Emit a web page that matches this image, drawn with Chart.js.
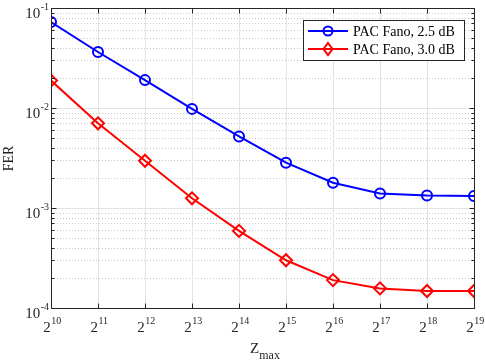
<!DOCTYPE html>
<html>
<head>
<meta charset="utf-8">
<script src="https://cdn.jsdelivr.net/npm/chart.js@4.4.1/dist/chart.umd.min.js"></script>
<style>
  html, body { margin: 0; padding: 0; background: #fff; }
  #wrap { width: 485px; height: 361px; }
</style>
</head>
<body>
<div id="wrap"><canvas id="ferChart"></canvas></div>
<script>
// x axis: Zmax = 2^k
const xExponents = [10, 11, 12, 13, 14, 15, 16, 17, 18, 19];
const yDecades = [-4, -3, -2, -1];

const ferFano25 = [0.0724, 0.0363, 0.0190, 0.0098, 0.0052, 0.00284, 0.00179, 0.00140, 0.00133, 0.00132];
const ferFano30 = [0.0188, 0.00703, 0.00297, 0.00125, 0.00059, 0.000300, 0.000190, 0.000157, 0.000148, 0.000148];

const seriesLabels = ['PAC Fano, 2.5 dB', 'PAC Fano, 3.0 dB'];

const serif = '"Liberation Serif", "DejaVu Serif", serif';
const frameColor = '#262626';

function toPoints(vals) {
    return xExponents.map((k, i) => ({ x: k, y: vals[i] }));
}

// draw "base^exp"; align 'center' or 'right'
function drawPower(ctx, base, exp, x, y, align) {
    ctx.font = '15px ' + serif;
    const bw = ctx.measureText(base).width;
    ctx.font = '10px ' + serif;
    const ew = ctx.measureText(exp).width;
    let left = align === 'center' ? x - (bw + ew) / 2 : x - bw - ew;
    ctx.textAlign = 'left';
    ctx.textBaseline = 'alphabetic';
    ctx.font = '15px ' + serif;
    ctx.fillText(base, left, y);
    ctx.font = '10px ' + serif;
    ctx.fillText(exp, left + bw + 0.5, y - 8);
}

const axesPlugin = {
    id: 'matlabAxes',
    beforeDatasetsDraw(chart) {
        const { ctx, chartArea: a, scales } = chart;
        const xs = scales.x, ys = scales.y;
        ctx.save();
        // minor dotted grid
        ctx.strokeStyle = '#c8c8c8';
        ctx.lineWidth = 1;
        ctx.setLineDash([1, 2]);
        yDecades.forEach(d => {
            if (d === yDecades[yDecades.length - 1]) return;
            for (let m = 2; m <= 9; m++) {
                const py = Math.round(ys.getPixelForValue(m * Math.pow(10, d))) + 0.5;
                ctx.beginPath();
                ctx.moveTo(a.left, py);
                ctx.lineTo(a.right, py);
                ctx.stroke();
            }
        });
        // major grid
        ctx.setLineDash([]);
        ctx.strokeStyle = '#e3e3e3';
        yDecades.forEach(d => {
            const py = Math.round(ys.getPixelForValue(Math.pow(10, d))) + 0.5;
            ctx.beginPath();
            ctx.moveTo(a.left, py);
            ctx.lineTo(a.right, py);
            ctx.stroke();
        });
        xExponents.forEach(k => {
            const px = Math.round(xs.getPixelForValue(k)) + 0.5;
            ctx.beginPath();
            ctx.moveTo(px, a.top);
            ctx.lineTo(px, a.bottom);
            ctx.stroke();
        });
        ctx.restore();
    },
    afterDatasetsDraw(chart) {
        const { ctx, chartArea: a, scales } = chart;
        const xs = scales.x, ys = scales.y;
        ctx.save();
        ctx.strokeStyle = frameColor;
        ctx.lineWidth = 1;
        const L = Math.round(a.left) + 0.5, R = Math.round(a.right) + 0.5;
        const T = Math.round(a.top) + 0.5, B = Math.round(a.bottom) + 0.5;
        ctx.strokeRect(L, T, R - L, B - T);
        // ticks
        ctx.beginPath();
        xExponents.forEach(k => {
            const px = Math.round(xs.getPixelForValue(k)) + 0.5;
            ctx.moveTo(px, B); ctx.lineTo(px, B - 5);
            ctx.moveTo(px, T); ctx.lineTo(px, T + 5);
        });
        yDecades.forEach(d => {
            const py = Math.round(ys.getPixelForValue(Math.pow(10, d))) + 0.5;
            ctx.moveTo(L, py); ctx.lineTo(L + 5, py);
            ctx.moveTo(R, py); ctx.lineTo(R - 5, py);
            if (d === yDecades[yDecades.length - 1]) return;
            for (let m = 2; m <= 9; m++) {
                const pm = Math.round(ys.getPixelForValue(m * Math.pow(10, d))) + 0.5;
                ctx.moveTo(L, pm); ctx.lineTo(L + 3, pm);
                ctx.moveTo(R, pm); ctx.lineTo(R - 3, pm);
            }
        });
        ctx.stroke();
        // tick labels
        ctx.fillStyle = frameColor;
        xExponents.forEach(k => {
            drawPower(ctx, '2', String(k), xs.getPixelForValue(k) + 1, B + 23, 'center');
        });
        yDecades.forEach(d => {
            drawPower(ctx, '10', String(d), L - 3, ys.getPixelForValue(Math.pow(10, d)) + 10, 'right');
        });
        // axis titles
        ctx.textAlign = 'left';
        ctx.font = '15px ' + serif;
        const zw = ctx.measureText('Z').width;
        ctx.font = '12px ' + serif;
        const mw = ctx.measureText('max').width;
        const cx = (L + R) / 2 + 2;
        ctx.font = '15px ' + serif;
        ctx.fillText('Z', cx - (zw + mw) / 2, 353);
        ctx.font = '12px ' + serif;
        ctx.fillText('max', cx - (zw + mw) / 2 + zw, 359);
        ctx.translate(13, (T + B) / 2);
        ctx.rotate(-Math.PI / 2);
        ctx.textAlign = 'center';
        ctx.font = '14px ' + serif;
        ctx.fillText('FER', 0, 0);
        ctx.restore();
    }
};

new Chart(document.getElementById('ferChart'), {
    type: 'line',
    data: {
        datasets: [
            {
                label: seriesLabels[0],
                data: toPoints(ferFano25),
                borderColor: '#0000ff',
                backgroundColor: 'rgba(0,0,0,0)',
                borderWidth: 2,
                pointStyle: 'circle',
                pointRadius: 5,
                pointBorderWidth: 2,
                pointBackgroundColor: 'rgba(0,0,0,0)',
                pointBorderColor: '#0000ff'
            },
            {
                label: seriesLabels[1],
                data: toPoints(ferFano30),
                borderColor: '#ff0000',
                backgroundColor: 'rgba(0,0,0,0)',
                borderWidth: 2,
                pointStyle: 'rectRot',
                pointRadius: 6,
                pointBorderWidth: 2,
                pointBackgroundColor: 'rgba(0,0,0,0)',
                pointBorderColor: '#ff0000'
            }
        ]
    },
    options: {
        responsive: true,
        maintainAspectRatio: false,
        animation: false,
        layout: { padding: { left: 51, right: 11, top: 8, bottom: 53 } },
        scales: {
            x: {
                type: 'linear', min: 10, max: 19,
                ticks: { display: false },
                grid: { display: false, drawTicks: false },
                border: { display: false }
            },
            y: {
                type: 'logarithmic', min: 1e-4, max: 1e-1,
                ticks: { display: false },
                grid: { display: false, drawTicks: false },
                border: { display: false }
            }
        },
        plugins: {
            legend: { display: false },
            tooltip: { enabled: false }
        }
    },
    plugins: [axesPlugin, {
        // MATLAB-style legend box
        id: 'legendBox',
        afterDraw(chart) {
            const ctx = chart.ctx;
            const x0 = 303, y0 = 20, w = 161, h = 40;
            ctx.save();
            ctx.fillStyle = '#fff';
            ctx.fillRect(x0, y0, w, h);
            ctx.strokeStyle = frameColor;
            ctx.lineWidth = 1;
            ctx.strokeRect(x0 + 0.5, y0 + 0.5, w, h);
            chart.data.datasets.forEach((ds, i) => {
                const cy = y0 + 11 + i * 18;
                ctx.strokeStyle = ds.borderColor;
                ctx.lineWidth = 2;
                ctx.beginPath();
                ctx.moveTo(x0 + 5, cy);
                ctx.lineTo(x0 + 45, cy);
                ctx.stroke();
                ctx.beginPath();
                if (ds.pointStyle === 'circle') {
                    ctx.arc(x0 + 25, cy, 4.5, 0, Math.PI * 2);
                } else {
                    ctx.moveTo(x0 + 25, cy - 6);
                    ctx.lineTo(x0 + 29.5, cy);
                    ctx.lineTo(x0 + 25, cy + 6);
                    ctx.lineTo(x0 + 20.5, cy);
                    ctx.closePath();
                }
                ctx.stroke();
                ctx.fillStyle = '#000';
                ctx.font = '14px ' + serif;
                ctx.textBaseline = 'middle';
                ctx.textAlign = 'left';
                ctx.fillText(ds.label, x0 + 50, cy + 1);
            });
            ctx.restore();
        }
    }]
});
</script>
</body>
</html>
